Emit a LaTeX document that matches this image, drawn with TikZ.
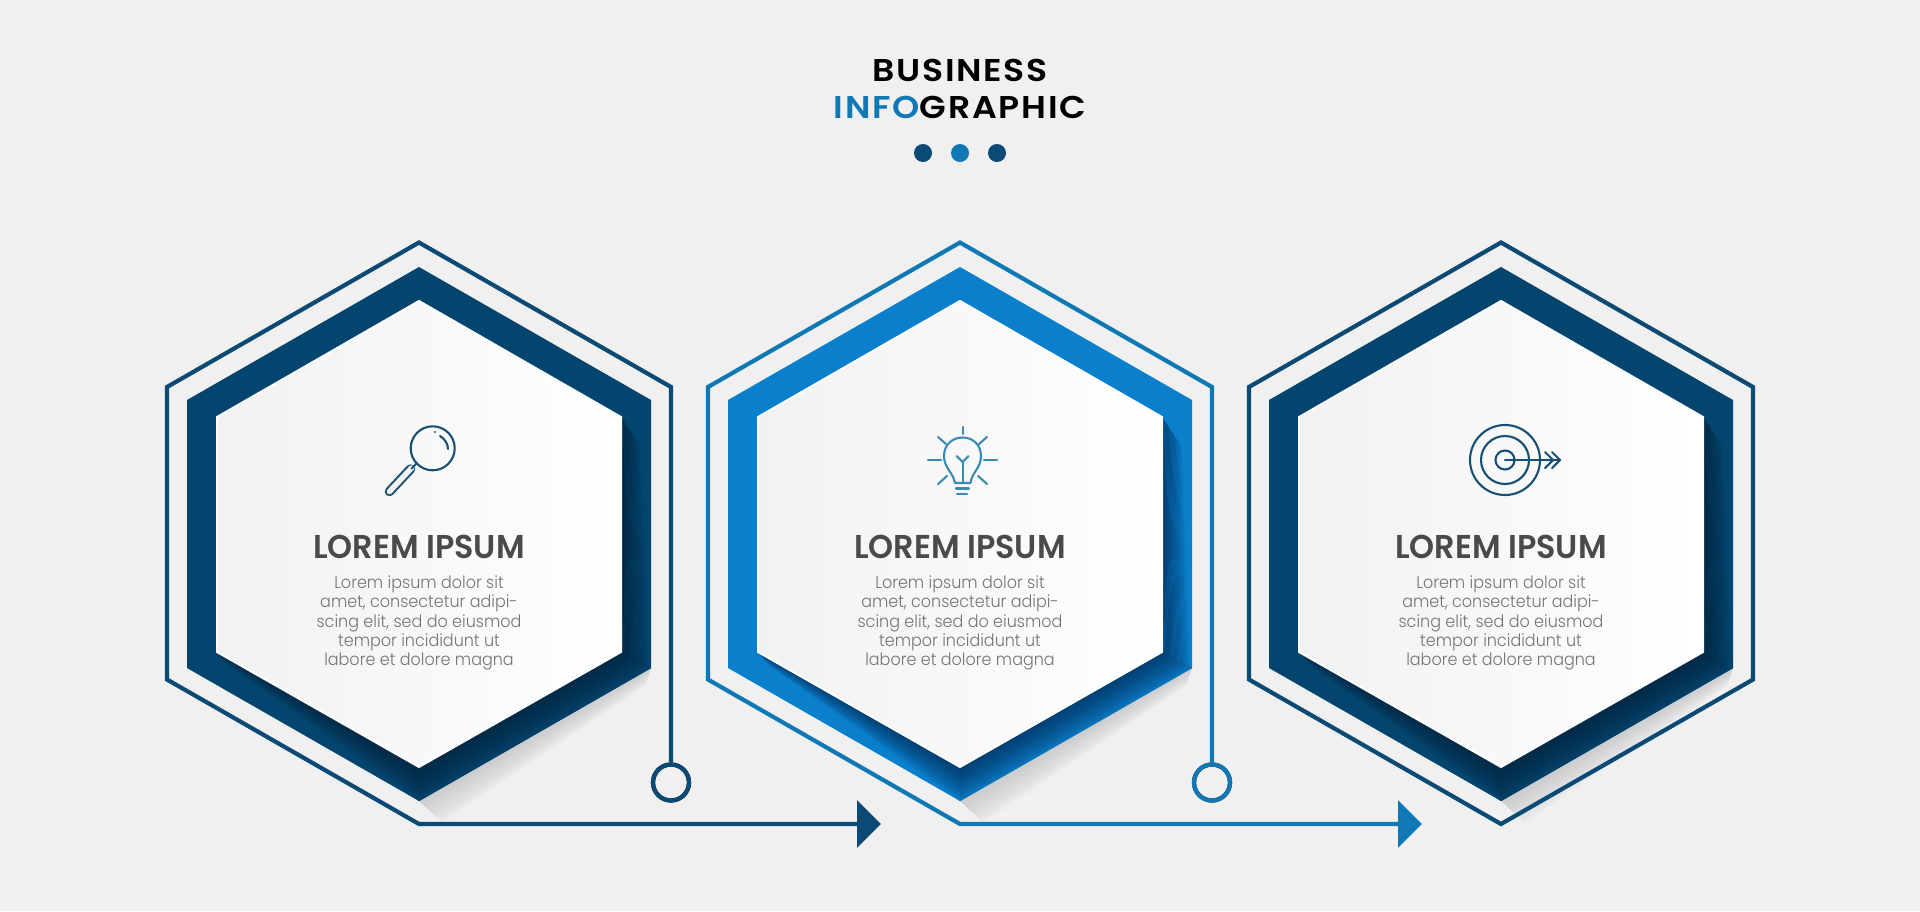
\documentclass[tikz,border=0pt]{standalone}
\usepackage{fontspec}
\usetikzlibrary{calc,arrows.meta}
\setmainfont{Poppins}
\newfontfamily\ttlfont[LetterSpace=5.5,FakeStretch=1.1]{Poppins SemiBold}
\newfontfamily\headfont[FakeStretch=0.965]{Poppins SemiBold}
\newfontfamily\bodyfont[FakeStretch=0.94]{Poppins Light}
\definecolor{bgc}{HTML}{F0F0F1}
\definecolor{navy}{HTML}{03456F}
\definecolor{navyline}{HTML}{0A4A75}
\definecolor{navydark}{HTML}{022844}
\definecolor{sky}{HTML}{0A7FCC}
\definecolor{skyline}{HTML}{1079B5}
\definecolor{skydark}{HTML}{023C6E}
\definecolor{headc}{HTML}{4A4A4A}
\definecolor{bodyc}{HTML}{747474}
\definecolor{iconnavy}{HTML}{174F74}
\definecolor{iconsky}{HTML}{3A8BB2}
\definecolor{shadowc}{HTML}{C9CACC}
\tikzset{
  x=1pt,y=-1pt,
  conn/.style={line width=4.2pt,miter limit=10},
  ringnode/.style={circle,draw,line width=4.2pt,minimum size=36pt,inner sep=0pt},
  dotnode/.style={circle,inner sep=0pt,minimum size=18pt},
  heading/.style={font=\headfont\fontsize{33}{33}\selectfont,text=headc,anchor=base,inner sep=0pt},
  bodytext/.style={font=\bodyfont\fontsize{17}{19.4}\selectfont,text=bodyc,align=center,inner sep=0pt},
  iconline/.style={line width=2.1pt,line cap=round,line join=round},
}
% gradient between edge A-B (col1) and edge D-C (col2)
\newcommand\gradquad[6]{%
  \foreach \i in {0,...,23}{%
    \pgfmathsetmacro\ta{\i/24}%
    \pgfmathsetmacro\tb{(\i+1.15)/24}%
    \pgfmathtruncatemacro\pc{100*(1-(\i+0.5)/24)^0.7}%
    \fill[#5!\pc!#6] ($(#1)!\ta!(#4)$) -- ($(#2)!\ta!(#3)$) -- ($(#2)!\tb!(#3)$) -- ($(#1)!\tb!(#4)$) -- cycle;
  }%
}
% #1 suffix, #2 centre x, #3 ring colour, #4 dark colour
\newcommand\hexcore[4]{%
  \coordinate (mt#1) at (#2,267);
  \coordinate (mr#1) at ($(#2,400)+(232,0)$);
  \coordinate (ms#1) at ($(#2,668)+(232,0)$);
  \coordinate (mb#1) at (#2,801);
  \coordinate (mu#1) at ($(#2,668)+(-232,0)$);
  \coordinate (ml#1) at ($(#2,400)+(-232,0)$);
  \coordinate (it#1) at (#2,301);
  \coordinate (ir#1) at ($(#2,417)+(202,0)$);
  \coordinate (is#1) at ($(#2,652)+(202,0)$);
  \coordinate (ib#1) at (#2,767);
  \coordinate (iu#1) at ($(#2,652)+(-202,0)$);
  \coordinate (il#1) at ($(#2,417)+(-202,0)$);
  % soft shadow on the ground
  \coordinate (sa#1) at ($(ms#1)+(-6,18)$);
  \coordinate (sb#1) at ($(mb#1)+(24,22)$);
  \gradquad{ms#1}{mb#1}{sb#1}{sa#1}{shadowc}{bgc}
  % ring
  \fill[#3] (mt#1) -- (mr#1) -- (ms#1) -- (mb#1) -- (mu#1) -- (ml#1) -- cycle;
  % shadow cast by the plate on the ring
  \coordinate (ra#1) at ($(ir#1)+(20,30)$);
  \coordinate (rb#1) at ($(is#1)+(28,16)$);
  \gradquad{ir#1}{is#1}{rb#1}{ra#1}{#4}{#3}
  \coordinate (la#1) at ($(iu#1)+(12,14)$);
  \gradquad{iu#1}{ib#1}{mb#1}{la#1}{#4}{#3}
  \gradquad{ib#1}{is#1}{ms#1}{mb#1}{#4}{#3!90!#4}
  % white plate
  \shade[left color=bgc!92!white,right color=white,draw=white,line width=2pt,line join=miter]
    (it#1) -- (ir#1) -- (is#1) -- (ib#1) -- (iu#1) -- (il#1) -- cycle;
  \node[heading] (head#1) at (#2,558) {LOREM IPSUM};
  \node[bodytext] (text#1) at (#2,623) {Lorem ipsum dolor sit\\amet, consectetur adipi-\\scing elit, sed do eiusmod\\tempor incididunt ut\\labore et dolore magna};
}
% outer outline coordinates
\newcommand\hexline[2]{%
  \coordinate (ot#1) at (#2,242.5);
  \coordinate (or#1) at ($(#2,387)+(252,0)$);
  \coordinate (os#1) at ($(#2,679.5)+(252,0)$);
  \coordinate (ob#1) at (#2,824);
  \coordinate (ou#1) at ($(#2,679.5)+(-252,0)$);
  \coordinate (ol#1) at ($(#2,387)+(-252,0)$);
  \coordinate (ar#1) at ($(#2,824)+(462,0)$);
  \node[ringnode] (ring#1) at ($(#2,782.5)+(252,0)$) {};
}
\begin{document}
\begin{tikzpicture}
\useasboundingbox (0,0) rectangle (1920,911);
\fill[bgc] (0,0) rectangle (1920,911);

% title
\node[font=\ttlfont\fontsize{31.5}{31.5}\selectfont,anchor=base,inner sep=0pt,text=black] (t1) at (960,81) {BUSINESS};
\node[font=\ttlfont\fontsize{31.5}{31.5}\selectfont,anchor=base,inner sep=0pt,text=black] (t2) at (960,118) {\textcolor{skyline}{INFO}GRAPHIC};
\node[dotnode,fill=navyline] (d1) at (923,153) {};
\node[dotnode,fill=skyline] (d2) at (960,153) {};
\node[dotnode,fill=navyline] (d3) at (997,153) {};

% hexagon bodies
\hexcore{a}{419}{navy}{navydark}
\hexcore{b}{960}{sky}{skydark}
\hexcore{c}{1501}{navy}{navydark}

% outlines
\hexline{a}{419}
\draw[conn,navyline,-{Triangle[length=24pt,width=47pt]}] (ringa.north) -- (ora) -- (ota) -- (ola) -- (oua) -- (oba) -- (ara);
\node[ringnode,draw=navyline] at (ringa) {};
\hexline{b}{960}
\draw[conn,skyline,-{Triangle[length=24pt,width=47pt]}] (ringb.north) -- (orb) -- (otb) -- (olb) -- (oub) -- (obb) -- (arb);
\node[ringnode,draw=skyline] at (ringb) {};
\coordinate (otc) at (1501,242.5);
\coordinate (orc) at (1753,387);
\coordinate (osc) at (1753,679.5);
\coordinate (obc) at (1501,824);
\coordinate (ouc) at (1249,679.5);
\coordinate (olc) at (1249,387);
\draw[conn,navyline] (otc) -- (orc) -- (osc) -- (obc) -- (ouc) -- (olc) -- cycle;

% magnifier
\begin{scope}[iconline,iconnavy]
  \draw (432.7,448.3) circle[radius=22];
  \draw (435,432) -- (435.1,432);
  \draw (440,436) .. controls (445,439) and (448,444) .. (448,449);
  \draw[line width=9.5pt] (389.5,491.5) -- (410.5,469);
  \draw[line width=5.5pt,draw=white!95!black] (389.5,491.5) -- (411.5,468);
  \draw (411.5,468.5) -- (417,463);
\end{scope}

% bulb
\begin{scope}[iconline,iconsky]
  \draw (955,483) .. controls (953,472) and (944,468) .. (944,456)
     .. controls (944,445) and (952,437.5) .. (962.7,437.5)
     .. controls (973,437.5) and (981,445) .. (981,456)
     .. controls (981,468) and (972,472) .. (970.5,483) -- cycle;
  \draw (956.5,456) -- (962.7,462) -- (968.5,456);
  \draw (962.7,462) -- (962.7,483);
  \draw (956,488.5) -- (969,488.5);
  \draw (957,494) -- (967,494);
  \draw (962.7,427) -- (962.7,434);
  \draw (928,460) -- (941,460);
  \draw (984,460) -- (997,460);
  \draw (938,437) -- (946,444);
  \draw (987,437) -- (979,444);
  \draw (938,484) -- (947,476);
  \draw (987,484) -- (978,476);
\end{scope}

% target
\begin{scope}[iconline,iconnavy]
  \draw (1505,460) circle[radius=35];
  \draw (1505,460) circle[radius=24];
  \draw (1505,460) circle[radius=9.5];
  \draw (1505,460) -- (1560,460);
  \draw (1545,452) -- (1553,460) -- (1545,468);
  \draw (1552,452) -- (1560,460) -- (1552,468);
\end{scope}
\end{tikzpicture}
\end{document}
